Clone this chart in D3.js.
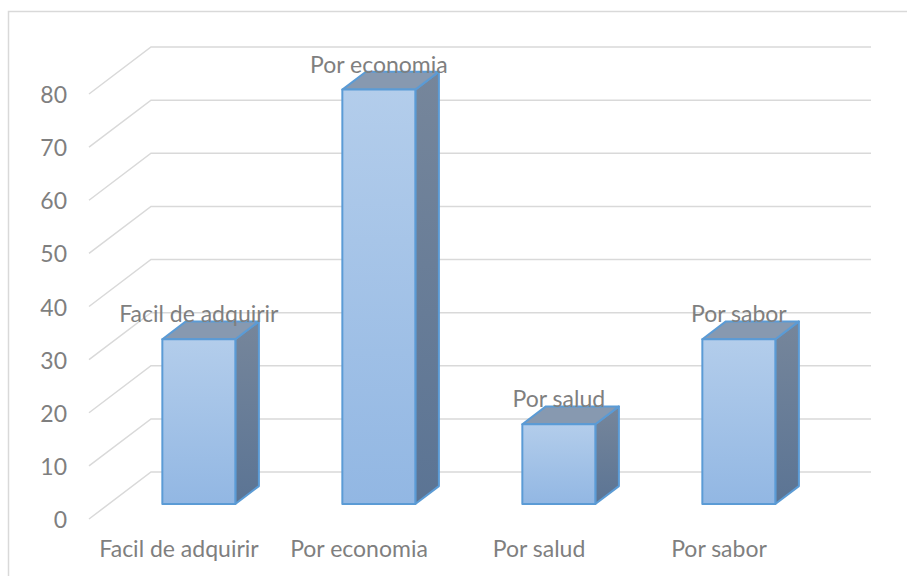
<!DOCTYPE html>
<html>
<head>
<meta charset="utf-8">
<script src="https://cdn.jsdelivr.net/npm/d3@7"></script>
<style>
  html, body { margin: 0; padding: 0; background: #ffffff; }
  svg { display: block; }
  text { font-family: Lato, "Open Sans", sans-serif; fill: #7f7f7f; }
</style>
</head>
<body>
<svg id="chart" width="907" height="576"></svg>
<script>
// Motivos de consumo
const categories = ["Facil de adquirir", "Por economia", "Por salud", "Por sabor"];
const values = [31, 78, 15, 31];
const yTicks = [0, 10, 20, 30, 40, 50, 60, 70, 80];

const W = 907, H = 576;
const svg = d3.select("#chart");

// Front plane of the 3D box
const x = d3.scaleBand().domain(categories).range([89, 809]).paddingInner(0).paddingOuter(0);
const y = d3.scaleLinear().domain([0, 80]).range([519, 94]);
// Depth (0 = front, 1 = back wall) mapped to an oblique offset
const depthX = d3.scaleLinear().domain([0, 1]).range([0, 62]);
const depthY = d3.scaleLinear().domain([0, 1]).range([0, -47]);

const barWidth = 73;
const barFront = 0.32, barBack = 0.70;

function pt(px, py, d) { return [px + depthX(d), py + depthY(d)]; }
const poly = pts => "M" + pts.map(p => p[0].toFixed(2) + "," + p[1].toFixed(2)).join("L") + "Z";

// Chart border
svg.append("rect")
  .attr("x", 8.5).attr("y", 11.5)
  .attr("width", W).attr("height", H)
  .attr("fill", "none").attr("stroke", "#d9d9d9").attr("stroke-width", 1.5);

// Gradients
const defs = svg.append("defs");
const gFront = defs.append("linearGradient").attr("id", "gFront").attr("x1", 0).attr("y1", 0).attr("x2", 0).attr("y2", 1);
gFront.append("stop").attr("offset", "0%").attr("stop-color", "#b3cdeb");
gFront.append("stop").attr("offset", "100%").attr("stop-color", "#92b7e3");
const gSide = defs.append("linearGradient").attr("id", "gSide").attr("x1", 0).attr("y1", 0).attr("x2", 0).attr("y2", 1);
gSide.append("stop").attr("offset", "0%").attr("stop-color", "#76869b");
gSide.append("stop").attr("offset", "100%").attr("stop-color", "#5b7494");

// Gridlines: side wall diagonal + back wall horizontal
const x0 = x.range()[0], x1 = x.range()[1];
const grid = svg.append("g").attr("fill", "none").attr("stroke", "#d9d9d9").attr("stroke-width", 1.5);
yTicks.forEach(t => {
  const a = [x0, y(t)], b = pt(x0, y(t), 1), c = pt(x1, y(t), 1);
  grid.append("path").attr("d", "M" + a + "L" + b + "L" + c);
});

// Value axis labels
svg.append("g").selectAll("text").data(yTicks).join("text")
  .attr("x", 67).attr("y", d => y(d))
  .attr("text-anchor", "end").attr("dominant-baseline", "central")
  .attr("font-size", 23)
  .text(d => d);

// Bars
const bars = svg.append("g").selectAll("g").data(categories.map((c, i) => ({ c, v: values[i] }))).join("g");
bars.each(function (d) {
  const g = d3.select(this);
  const L = x(d.c) + (x.bandwidth() - barWidth) / 2, R = L + barWidth;
  const B = y(0), T = y(d.v);
  const sty = s => s.attr("stroke", "#5b9bd5").attr("stroke-width", 2).attr("stroke-linejoin", "round");
  // side
  g.append("path").attr("d", poly([pt(R, B, barFront), pt(R, B, barBack), pt(R, T, barBack), pt(R, T, barFront)]))
    .attr("fill", "url(#gSide)").call(sty);
  // top
  g.append("path").attr("d", poly([pt(L, T, barFront), pt(R, T, barFront), pt(R, T, barBack), pt(L, T, barBack)]))
    .attr("fill", "#8799b0").call(sty);
  // front
  const f0 = pt(L, T, barFront), f1 = pt(R, B, barFront);
  g.append("rect").attr("x", f0[0]).attr("y", f0[1]).attr("width", f1[0] - f0[0]).attr("height", f1[1] - f0[1])
    .attr("fill", "url(#gFront)").call(sty);
  // data label
  g.append("text")
    .attr("x", (f0[0] + f1[0]) / 2).attr("y", f0[1] - 17)
    .attr("text-anchor", "middle").attr("font-size", 23)
    .text(d.c);
});

// Category axis labels
svg.append("g").selectAll("text").data(categories).join("text")
  .attr("x", d => x(d) + x.bandwidth() / 2).attr("y", 557)
  .attr("text-anchor", "middle").attr("font-size", 23)
  .text(d => d);
</script>
</body>
</html>
